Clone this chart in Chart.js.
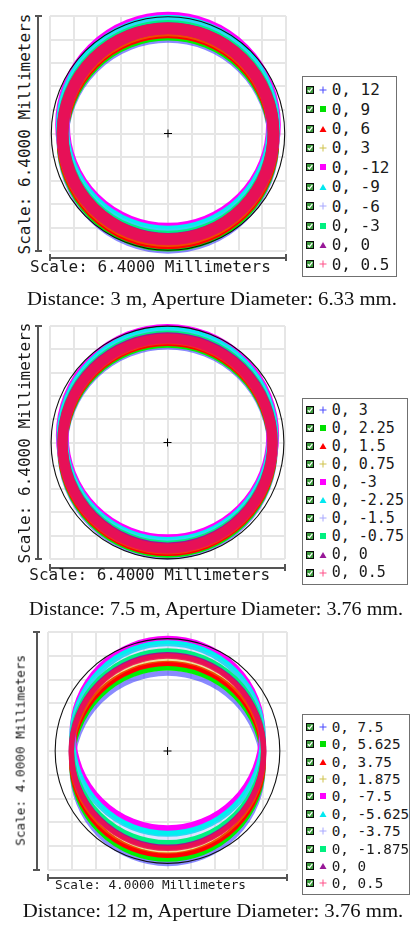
<!DOCTYPE html>
<html><head><meta charset="utf-8">
<script src="https://cdn.jsdelivr.net/npm/chart.js@4.4.1/dist/chart.umd.min.js"></script>
<style>
html,body{margin:0;padding:0;background:#fff}
body{width:411px;height:927px;position:relative;overflow:hidden;font-family:"DejaVu Sans Mono",monospace;color:#1a1a1a}
canvas{position:absolute}
</style></head><body>
<script>
// ---------- data ----------
// field points (x, y) in degrees, legend order
const fieldX  = [0, 0, 0, 0, 0, 0, 0, 0, 0, 0];
const fieldY1 = [12, 9, 6, 3, -12, -9, -6, -3, 0, 0.5];
const fieldY2 = [3, 2.25, 1.5, 0.75, -3, -2.25, -1.5, -0.75, 0, 0.5];
const fieldY3 = [7.5, 5.625, 3.75, 1.875, -7.5, -5.625, -3.75, -1.875, 0, 0.5];

// footprint rings (mm): centre x, centre y, outer radius, inner radius
const ringX1 = [0, 0, 0, 0, 0, 0, 0, 0, 0, 0];
const ringY1 = [-0.24, -0.18, -0.12, -0.06, 0.24, 0.18, 0.12, 0.06, 0, -0.01];
const ringOuter1 = [3.02, 3.02, 3.02, 3.02, 3.06, 3.04, 3.02, 3.02, 3.02, 3.02];
const ringInner1 = [2.70, 2.70, 2.70, 2.70, 2.66, 2.68, 2.70, 2.70, 2.70, 2.70];
const aperture1 = 6.33;

const ringX2 = [0, 0, 0, 0, 0, 0, 0, 0, 0, 0];
const ringY2 = [-0.19, -0.14, -0.095, -0.048, 0.19, 0.14, 0.095, 0.048, 0, -0.03];
const ringOuter2 = [3.0, 3.0, 3.0, 3.0, 3.04, 3.02, 3.0, 3.0, 3.0, 3.0];
const ringInner2 = [2.72, 2.72, 2.72, 2.72, 2.69, 2.71, 2.72, 2.72, 2.72, 2.72];
const aperture2 = 6.34;

const ringX3 = [0, 0, 0, 0, 0, 0, 0, 0, 0, 0];
const ringY3 = [-0.29, -0.21, -0.14, -0.07, 0.29, 0.21, 0.14, 0.07, 0, -0.02];
const ringOuter3 = [1.64, 1.645, 1.65, 1.65, 1.64, 1.645, 1.65, 1.65, 1.655, 1.655];
const ringInner3 = [1.55, 1.555, 1.56, 1.56, 1.53, 1.545, 1.555, 1.56, 1.565, 1.565];
const aperture3 = 3.76;

// grid tick values (mm)
const gridTicks1 = [-3.2, -2.56, -1.92, -1.28, -0.64, 0, 0.64, 1.28, 1.92, 2.56, 3.2];
const gridTicks3 = [-2, -1.6, -1.2, -0.8, -0.4, 0, 0.4, 0.8, 1.2, 1.6, 2];

const scaleText1 = "Scale: 6.4000 Millimeters";
const scaleText3 = "Scale: 4.0000 Millimeters";
const caption1 = "Distance: 3 m, Aperture Diameter: 6.33 mm.";
const caption2 = "Distance: 7.5 m, Aperture Diameter: 3.76 mm.";
const caption3 = "Distance: 12 m, Aperture Diameter: 3.76 mm.";

// ---------- styles ----------
const ringColors = ['rgba(60,60,255,0.6)', '#00f000', '#ff0000', 'rgba(210,190,0,0.4)', '#ff00ff',
  '#00f0f0', 'rgba(160,160,255,0.3)', '#00f080', '#981898', 'rgba(240,15,80,0.9)'];
const markColors = ['#4848ff', '#00e000', '#ff0000', '#cfc24a', '#ff00ff', '#00e8f0', '#a8a8ff', '#00f080', '#981898', '#ff5088'];
const markShapes = ['cross', 'rect', 'triangle', 'cross', 'rect', 'triangle', 'cross', 'rect', 'triangle', 'cross'];

const panels = [
  {plot:{l:50,t:16,r:286,b:251}, ybar:38.3, ylab:{cx:24.5, cy:134.2, fs:16}, xbar:257.7, xlab:{l:30, base:272.3, fs:16},
   leg:{l:302, t:76, w:95, h:201, row0:90, step:19.37, fs:16}, cap:{cx:212, base:305.6, w:371}},
  {plot:{l:50,t:326,r:285,b:559}, ybar:38.3, ylab:{cx:24.5, cy:443.3, fs:16}, xbar:567.7, xlab:{l:29.3, base:581, fs:16},
   leg:{l:302, t:398, w:106, h:187, row0:410, step:18.07, fs:15}, cap:{cx:215.8, base:615.2, w:375}},
  {plot:{l:48,t:632,r:287,b:870}, ybar:36.7, ylab:{cx:20.6, cy:750.8, fs:12.7}, xbar:877.7, xlab:{l:55, base:889.3, fs:12.7},
   leg:{l:302, t:714, w:108, h:181, row0:726.7, step:17.4, fs:14.3}, cap:{cx:212.5, base:917.8, w:381.6}}
];

// ---------- helpers ----------
function el(tag, style, text) {
  const e = document.createElement(tag);
  Object.assign(e.style, {position:'absolute'}, style);
  if (text != null) e.textContent = text;
  document.body.appendChild(e);
  return e;
}
const measureCtx = document.createElement('canvas').getContext('2d');
function px(ctx, v) {
  const s = ctx.chart.scales.x;
  return Math.abs(s.getPixelForValue(v) - s.getPixelForValue(0));
}
function markerSVG(shape, color) {
  let inner;
  if (shape === 'cross') inner = `<path d="M0.5 4H7.5M4 0.5V7.5" stroke="${color}" stroke-width="1"/>`;
  else if (shape === 'rect') inner = `<rect x="1" y="1" width="6" height="6" fill="${color}"/>`;
  else inner = `<path d="M0.5 7L4 1L7.5 7Z" fill="${color}"/>`;
  return `<svg width="8" height="8" viewBox="0 0 8 8" style="display:block">${inner}</svg>`;
}
const checkSVG = `<svg width="8" height="8" viewBox="0 0 8 8" style="display:block"><rect x="0.5" y="0.5" width="7" height="7" fill="#3c9a3c" stroke="#0a0a0a"/><path d="M1.8 4.2L3.4 5.8L6.3 2.2" stroke="#fff" stroke-width="1.3" fill="none"/></svg>`;

function buildPanel(P, fieldY, ringX, ringY, ringOuter, ringInner, apertureDiam, gridTicks, scaleText, caption) {
  const pad = 2, inset = 5;
  const L = Math.round(P.plot.l), T = Math.round(P.plot.t);
  const cv = document.createElement('canvas');
  cv.width = Math.round(P.plot.r) - L + 2 * inset;
  cv.height = Math.round(P.plot.b) - T + 2 * inset;
  cv.style.left = (L - inset) + 'px';
  cv.style.top = (T - inset) + 'px';
  document.body.appendChild(cv);

  const lim = gridTicks[gridTicks.length - 1];
  const n = fieldY.length;
  const datasets = fieldY.map((fy, i) => ({
    label: fieldX[i] + ', ' + fy,
    data: [{x: ringX[i], y: ringY[i]}],
    order: n - i + 1,
    pointStyle: 'circle',
    pointBackgroundColor: 'rgba(0,0,0,0)',
    pointBorderColor: ringColors[i],
    pointRadius: c => px(c, (ringOuter[i] + ringInner[i]) / 2),
    pointBorderWidth: c => px(c, ringOuter[i] - ringInner[i]),
    clip: false
  }));
  datasets.push({label:'aperture', data:[{x:0, y:0}], order:1, pointStyle:'circle', pointBackgroundColor:'rgba(0,0,0,0)',
    pointBorderColor:'#111', pointBorderWidth:1.1, pointRadius: c => px(c, apertureDiam / 2), clip:false});
  datasets.push({label:'centre', data:[{x:0, y:0}], order:0, pointStyle:'cross', pointRadius:4, pointBorderWidth:1,
    pointBorderColor:'#000', clip:false});

  const axis = {
    type: 'linear', min: -lim, max: lim,
    afterBuildTicks: a => { a.ticks = gridTicks.map(v => ({value: v})); },
    ticks: {display: false},
    grid: {color: '#e6e6e6', lineWidth: 2, drawTicks: false},
    border: {display: false}
  };
  new Chart(cv, {
    type: 'scatter', data: {datasets},
    options: {responsive:false, animation:false, events:[], layout:{padding:pad},
      plugins:{legend:{display:false}, tooltip:{enabled:false}},
      scales:{x:axis, y:Object.assign({}, axis)}}
  });

  // scale brackets
  const bc = '#555';
  el('div', {left:(P.ybar - 1)+'px', top:P.plot.t+'px', width:'2px', height:(P.plot.b - P.plot.t)+'px', background:bc});
  el('div', {left:(P.ybar - 3.5)+'px', top:(P.plot.t - 1)+'px', width:'7px', height:'2px', background:bc});
  el('div', {left:(P.ybar - 3.5)+'px', top:(P.plot.b - 1)+'px', width:'7px', height:'2px', background:bc});
  el('div', {left:P.plot.l+'px', top:(P.xbar - 1)+'px', width:(P.plot.r - P.plot.l)+'px', height:'2px', background:bc});
  el('div', {left:(P.plot.l - 1)+'px', top:(P.xbar - 3.5)+'px', width:'2px', height:'7px', background:bc});
  el('div', {left:(P.plot.r - 1)+'px', top:(P.xbar - 3.5)+'px', width:'2px', height:'7px', background:bc});

  const yl = P.ylab;
  el('div', {left:(yl.cx - 150)+'px', top:(yl.cy - yl.fs/2)+'px', width:'300px', height:yl.fs+'px',
    fontSize:yl.fs+'px', lineHeight:yl.fs+'px', textAlign:'center', whiteSpace:'nowrap',
    transform:'rotate(-90deg)', transformOrigin:'50% 50%'}, scaleText);
  const xl = P.xlab;
  el('div', {left:xl.l+'px', top:(xl.base - 0.846*xl.fs)+'px', fontSize:xl.fs+'px', lineHeight:xl.fs+'px', whiteSpace:'nowrap'}, scaleText);

  // legend
  const g = P.leg;
  el('div', {left:g.l+'px', top:g.t+'px', width:g.w+'px', height:g.h+'px', border:'1px solid #707070', boxSizing:'border-box', background:'#fff'});
  fieldY.forEach((fy, i) => {
    const cy = g.row0 + i * g.step;
    const cb = el('div', {left:'306px', top:(cy - 4)+'px', width:'8px', height:'8px'}); cb.innerHTML = checkSVG;
    const mk = el('div', {left:'319px', top:(cy - 4)+'px', width:'8px', height:'8px'}); mk.innerHTML = markerSVG(markShapes[i], markColors[i]);
    el('div', {left:'331.7px', top:(cy - 0.48*g.fs)+'px', fontSize:g.fs+'px', lineHeight:g.fs+'px', whiteSpace:'nowrap'}, fieldX[i] + ', ' + fy);
  });

  // caption
  const cp = P.cap, fs = 18.5;
  measureCtx.font = fs + 'px "Liberation Serif"';
  const mw = measureCtx.measureText(caption).width;
  el('div', {left:(cp.cx - 250)+'px', top:(cp.base - 0.8375*fs)+'px', width:'500px', textAlign:'center',
    fontFamily:'"Liberation Serif", serif', fontSize:fs+'px', lineHeight:fs+'px', whiteSpace:'nowrap', color:'#111',
    transform:'scaleX(' + (cp.w / mw).toFixed(4) + ')', transformOrigin:'50% 50%'}, caption);
}

buildPanel(panels[0], fieldY1, ringX1, ringY1, ringOuter1, ringInner1, aperture1, gridTicks1, scaleText1, caption1);
buildPanel(panels[1], fieldY2, ringX2, ringY2, ringOuter2, ringInner2, aperture2, gridTicks1, scaleText1, caption2);
buildPanel(panels[2], fieldY3, ringX3, ringY3, ringOuter3, ringInner3, aperture3, gridTicks3, scaleText3, caption3);
</script>
</body></html>
